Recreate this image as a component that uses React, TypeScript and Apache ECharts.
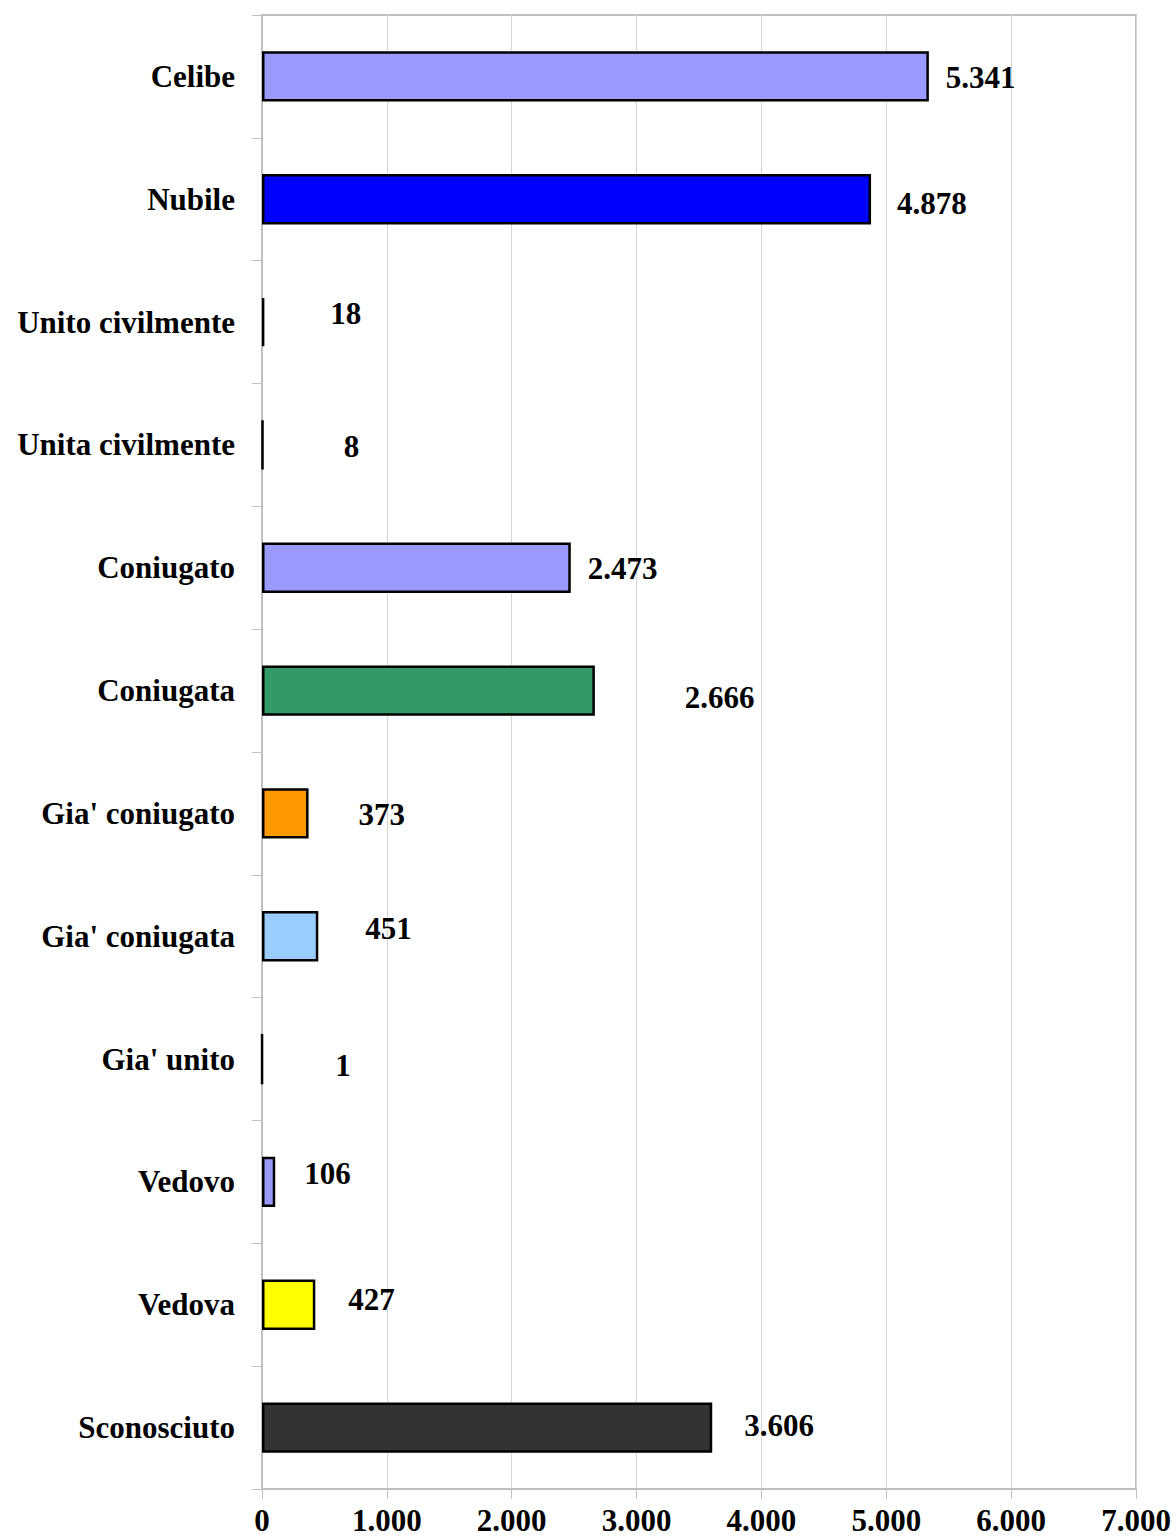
import React, { useEffect, useRef } from "react";
import * as echarts from "echarts";

const categories = [
  "Celibe",
  "Nubile",
  "Unito civilmente",
  "Unita civilmente",
  "Coniugato",
  "Coniugata",
  "Gia' coniugato",
  "Gia' coniugata",
  "Gia' unito",
  "Vedovo",
  "Vedova",
  "Sconosciuto",
];
const values = [5341, 4878, 18, 8, 2473, 2666, 373, 451, 1, 106, 427, 3606];
const xTicks = [0, 1000, 2000, 3000, 4000, 5000, 6000, 7000];

const barColors = [
  "#9999FF",
  "#0000FF",
  "#9999FF",
  "#9999FF",
  "#9999FF",
  "#339966",
  "#FF9900",
  "#99CCFF",
  "#9999FF",
  "#9999FF",
  "#FFFF00",
  "#333333",
];
// label offsets [dx from bar end, dy from bar center] (style only)
const labelOffsets: [number, number][] = [
  [17, 1],
  [26, 4],
  [66, -9],
  [80, 2],
  [17, 1],
  [90, 7],
  [50, 1],
  [47, -8],
  [72, 6],
  [29, -8],
  [33, -5],
  [32, -2],
];

const fmt = (v: number) =>
  String(Math.round(v)).replace(/\B(?=(\d{3})+(?!\d))/g, ".");

const FONT = "'Liberation Serif', 'Times New Roman', serif";
const FS = 31;

export default function App() {
  const ref = useRef<HTMLDivElement>(null);
  useEffect(() => {
    if (!ref.current) return;
    const chart = echarts.init(ref.current, undefined, { renderer: "svg" });
    chart.setOption({
      animation: false,
      backgroundColor: "#ffffff",
      grid: {
        left: 262,
        top: 15,
        right: 40,
        bottom: 50,
        show: true,
        borderColor: "#c0c0c0",
        borderWidth: 2,
      },
      xAxis: {
        type: "value",
        min: xTicks[0],
        max: xTicks[xTicks.length - 1],
        interval: 1000,
        axisLine: { show: true, lineStyle: { color: "#c0c0c0", width: 2 } },
        axisTick: { show: true, length: 10, lineStyle: { color: "#c0c0c0", width: 1 } },
        splitLine: { show: true, lineStyle: { color: "#d4d4d4", width: 1 } },
        axisLabel: {
          color: "#000",
          fontFamily: FONT,
          fontWeight: "bold",
          fontSize: FS,
          lineHeight: 31,
          margin: 16,
          formatter: (v: number) => fmt(v),
        },
      },
      yAxis: {
        type: "category",
        data: categories,
        inverse: true,
        axisLine: { show: true, lineStyle: { color: "#c0c0c0", width: 2 } },
        axisTick: { show: true, length: 10, lineStyle: { color: "#c0c0c0", width: 1 } },
        axisLabel: {
          color: "#000",
          fontFamily: FONT,
          fontWeight: "bold",
          fontSize: FS,
          margin: 27,
        },
      },
      series: [
        {
          type: "bar",
          barWidth: "41%",
          data: values.map((v, i) => ({
            value: v,
            itemStyle: {
              color: barColors[i],
              borderColor: "#000",
              borderWidth: 2.5,
            },
            label: {
              show: true,
              position: "right",
              distance: 0,
              offset: labelOffsets[i],
              formatter: () => fmt(v),
              color: "#000",
              fontFamily: FONT,
              fontWeight: "bold",
              fontSize: FS,
            },
          })),
        },
      ],
    });
    return () => chart.dispose();
  }, []);
  return (
    <div
      ref={ref}
      style={{ position: "absolute", left: 0, top: 0, width: 1176, height: 1539 }}
    />
  );
}
